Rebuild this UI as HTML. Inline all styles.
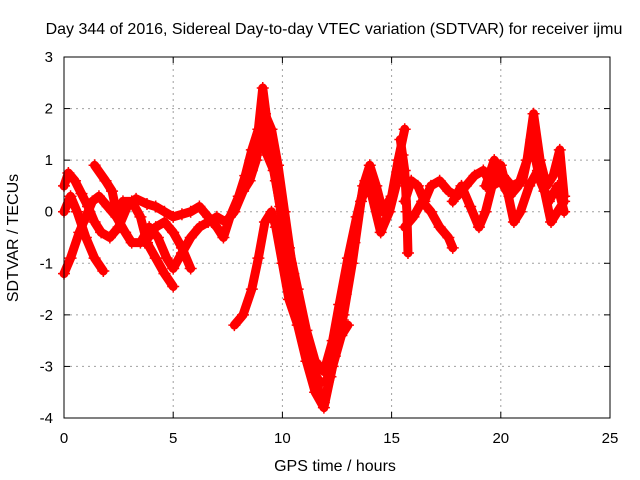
<!DOCTYPE html>
<html><head><meta charset="utf-8"><style>
body{margin:0;background:#fff;}
svg{display:block;font-family:"Liberation Sans",sans-serif;}
</style></head><body>
<svg id="chart" width="640" height="480">
<text x="334" y="34" font-size="16" text-anchor="middle">Day 344 of 2016, Sidereal Day-to-day VTEC variation (SDTVAR) for receiver ijmu</text>
<text x="335" y="471" font-size="16" text-anchor="middle">GPS time / hours</text>
<text transform="translate(18,238) rotate(-90)" font-size="16" text-anchor="middle">SDTVAR / TECUs</text>
<g id="grid"></g><g id="axes"></g><g id="marks"></g>
<rect x="64" y="57" width="546" height="361" fill="none" stroke="#000"/>
</svg>
<script>
const xTicks=[0,5,10,15,20,25];
const yTicks=[-4,-3,-2,-1,0,1,2,3];
const trackA=[[0,0.5],[0.2,0.75],[0.5,0.6],[0.8,0.35],[1.1,0.1],[1.4,-0.2],[1.7,-0.4],[2.1,-0.5],[2.5,-0.3],[2.9,0.1],[3.3,0.25],[3.8,0.15],[4.2,0.1],[4.6,0.0],[5.0,-0.1],[5.4,-0.05],[5.8,0.0],[6.2,0.1],[6.6,-0.1],[7.0,-0.3],[7.3,-0.5],[7.6,-0.1],[8.0,0.3],[8.3,0.7],[8.6,1.2],[8.9,1.6],[9.1,2.4],[9.4,1.4],[9.7,0.6],[10.0,-0.2],[10.4,-1.0],[10.8,-1.9],[11.2,-2.7],[11.6,-3.4],[11.9,-3.7],[12.2,-3.2],[12.5,-2.5],[12.9,-1.6],[13.3,-0.6],[13.7,0.5],[14.0,0.9],[14.3,0.5],[14.6,0.0],[15.0,0.3],[15.3,1.0],[15.6,1.6]];
const trackB=[[0,-1.2],[0.3,-0.9],[0.7,-0.4],[1.0,-0.1],[1.3,0.2],[1.6,0.3],[2.0,0.1],[2.4,-0.1],[2.8,-0.4],[3.1,-0.6],[3.5,-0.6],[3.9,-0.3],[4.3,-0.5],[4.7,-0.9],[5.0,-1.1],[5.4,-0.8],[5.8,-0.5],[6.2,-0.3],[6.6,-0.2],[7.0,-0.1],[7.4,-0.2],[7.8,0.0],[8.2,0.4],[8.5,0.6],[8.8,1.0],[9.0,1.5],[9.3,1.1],[9.6,0.8],[9.9,0.1],[10.3,-0.7],[10.7,-1.5],[11.1,-2.3],[11.5,-2.9],[11.9,-3.1],[12.3,-2.5],[12.6,-1.8],[13.0,-0.9],[13.4,-0.1],[13.8,0.6],[14.1,0.3],[14.5,-0.4],[14.9,0.0],[15.2,0.5],[15.5,1.1]];
const trackC=[[8.6,0.8],[8.9,1.3],[9.2,1.9],[9.5,1.6],[9.8,0.9],[10.1,0.0],[10.5,-1.2],[10.9,-2.3],[11.3,-3.0],[11.7,-3.3],[12.0,-3.3],[12.4,-2.8],[12.8,-2.0],[13.2,-1.0],[13.6,0.2],[14.0,0.7],[14.4,0.1],[14.8,0.1]];
const trackD=[[0,0.0],[0.3,0.3],[0.6,0.0],[1.0,-0.5],[1.4,-0.9],[1.8,-1.15]];
const trackE=[[1.4,0.9],[1.9,0.6],[2.2,0.4],[2.4,0.0],[2.7,0.2],[3.1,0.2],[3.5,-0.1],[3.8,-0.6],[4.2,-0.9],[4.6,-1.2],[5.0,-1.45]];
const trackF=[[3.7,-0.6],[4.2,-0.3],[4.6,-0.2],[5.0,-0.4],[5.4,-0.7],[5.8,-1.1]];
const trackG=[[7.8,-2.2],[8.2,-2.0],[8.6,-1.5],[8.9,-0.9],[9.2,-0.2],[9.5,0.0],[9.7,-0.3],[10.0,-1.0],[10.3,-1.7],[10.7,-2.2],[11.1,-2.9],[11.5,-3.5],[11.9,-3.8],[12.3,-3.0],[12.7,-2.4],[13.0,-2.2]];
const trackH=[[15.6,0.2],[15.9,0.6],[16.2,0.5],[16.5,0.2],[16.8,0.5],[17.2,0.6],[17.6,0.4],[18.0,0.3],[18.4,0.5],[18.8,0.7],[19.2,0.8],[19.6,0.5],[20.0,0.6],[20.4,0.3],[20.8,0.5],[21.2,1.0],[21.5,1.9],[21.8,1.0],[22.1,0.5],[22.4,0.7],[22.7,1.2],[22.9,0.3]];
const trackI=[[15.6,-0.3],[16.0,-0.1],[16.4,0.2],[16.8,0.0],[17.2,-0.3],[17.6,-0.5],[17.8,-0.7]];
const trackJ=[[17.8,0.2],[18.2,0.5],[18.6,0.1],[19.0,-0.3],[19.3,0.0],[19.6,0.5],[20.0,0.9],[20.3,0.4],[20.6,-0.2],[20.9,0.0],[21.3,0.5],[21.7,0.8],[22.0,0.4],[22.3,-0.2],[22.6,0.0],[22.9,0.2]];
const trackK=[[19.3,0.5],[19.7,1.0],[20.1,0.7],[20.5,0.5],[21.0,0.6],[21.4,1.4],[21.8,0.6],[22.2,0.2],[22.6,0.5],[22.9,0.0]];
const trackL=[[15.4,1.4],[15.6,0.8],[15.7,0.0],[15.75,-0.8]];
const tracks=[trackA,trackB,trackC,trackD,trackE,trackF,trackG,trackH,trackI,trackJ,trackK,trackL];
const X0=64,X1=610,Y0=418,Y1=57;
const xs=v=>X0+(v-0)/(25-0)*(X1-X0);
const ys=v=>Y0-(v+4)/7*(Y0-Y1);
const NS='http://www.w3.org/2000/svg';
const grid=document.getElementById('grid'),axes=document.getElementById('axes'),marks=document.getElementById('marks');
function mk(tag,attrs,parent){const e=document.createElementNS(NS,tag);for(const k in attrs)e.setAttribute(k,attrs[k]);parent.appendChild(e);return e;}
xTicks.forEach(t=>{const x=xs(t);
 if(t>0&&t<25){const g=mk('line',{x1:x,x2:x,y1:Y1,y2:Y0,stroke:'#a0a0a0','stroke-dasharray':'2,4'},grid);
 
 }
 const a=mk('line',{x1:x,x2:x,y1:Y0,y2:Y0-6,stroke:'#000'},axes);
 
 
 mk('line',{x1:x,x2:x,y1:Y1,y2:Y1+6,stroke:'#000'},axes);
 const l=mk('text',{x:x,y:Y0+25,'font-size':15,'text-anchor':'middle'},axes);l.textContent=t;
 
 
});
yTicks.forEach(t=>{const y=ys(t);
 if(t>-4&&t<3){const g=mk('line',{x1:X0,x2:X1,y1:y,y2:y,stroke:'#a0a0a0','stroke-dasharray':'2,4'},grid);
 
 }
 const a=mk('line',{x1:X0,x2:X0+6,y1:y,y2:y,stroke:'#000'},axes);
 
 
 mk('line',{x1:X1,x2:X1-6,y1:y,y2:y,stroke:'#000'},axes);
 const l=mk('text',{x:X0-11,y:y+5,'font-size':15,'text-anchor':'end'},axes);l.textContent=t;
 
 
});
tracks.forEach((tr,i)=>{
 const pts=tr.map(p=>xs(p[0])+','+ys(p[1])).join(' ');
 const pl=mk('polyline',{points:pts,fill:'none',stroke:'#ff0000','stroke-width':9,'stroke-linejoin':'round','stroke-linecap':'round'},marks);
 
 
 tr.forEach(p=>{const x=xs(p[0]),y=ys(p[1]);
  const m=mk('path',{d:`M${x-6},${y}H${x+6}M${x},${y-6}V${y+6}`,stroke:'#ff0000','stroke-width':1.5},marks);
  
  
 });
});
</script>
</body></html>
